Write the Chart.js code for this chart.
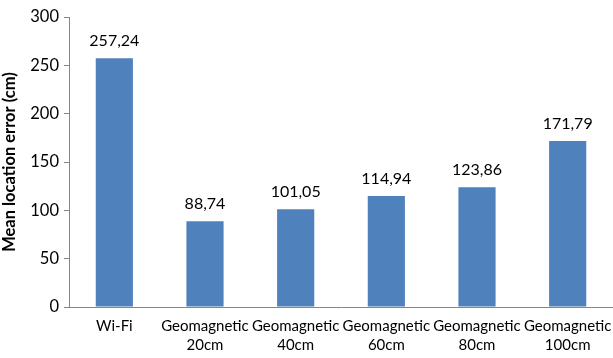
<!DOCTYPE html>
<html><head><meta charset="utf-8">
<script src="https://cdn.jsdelivr.net/npm/chart.js@4"></script>
<style>html,body{margin:0;padding:0;background:#fff}#w{width:613px;height:358px}</style>
</head><body><div id="w"><canvas id="c"></canvas></div>
<script>
const categories = [["Wi-Fi"],["Geomagnetic","20cm"],["Geomagnetic","40cm"],["Geomagnetic","60cm"],["Geomagnetic","80cm"],["Geomagnetic","100cm"]];
const values = [257.24, 88.74, 101.05, 114.94, 123.86, 171.79];
const valueLabels = ["257,24","88,74","101,05","114,94","123,86","171,79"];
const yTicks = [0,50,100,150,200,250,300];
const FONT = "Lato, 'Open Sans', sans-serif";
const labelPlugin = {
  id:'vlabels',
  afterDatasetsDraw(chart){
    const ctx=chart.ctx; const meta=chart.getDatasetMeta(0);
    ctx.save(); ctx.font="16px "+FONT; ctx.fillStyle="#000"; ctx.textAlign="center"; ctx.textBaseline="middle";
    meta.data.forEach((b,i)=>{ ctx.fillText(valueLabels[i], b.x, b.y-17); });
    ctx.restore();
  }
};
new Chart(document.getElementById('c'),{
  type:'bar',
  data:{labels:categories,datasets:[{data:values,backgroundColor:'#4F81BD',barPercentage:0.41,categoryPercentage:1}]},
  plugins:[labelPlugin],
  options:{
    responsive:true,maintainAspectRatio:false,animation:false,
    layout:{padding:{top:17,right:0,left:0,bottom:0}},
    plugins:{legend:{display:false},tooltip:{enabled:false}},
    scales:{
      x:{grid:{display:false,drawTicks:false},border:{color:'#868686'},
         ticks:{color:'#000',font:{size:15,family:FONT,lineHeight:1.3},padding:9,maxRotation:0,autoSkip:false},
         afterFit(s){s.height=51;s.paddingRight=0;s.paddingLeft=0;}},
      y:{min:0,max:300,afterBuildTicks(s){s.ticks=yTicks.map(v=>({value:v}));},
         grid:{drawOnChartArea:false,tickLength:5,color:'#868686'},border:{color:'#868686'},
         ticks:{color:'#000',font:{size:16.5,family:FONT},padding:5},
         title:{display:true,text:'Mean location error (cm)',color:'#000',font:{size:16.5,weight:'bold',family:FONT},padding:{top:0,bottom:2}},
         afterFit(s){s.width=69;s.paddingTop=0;}}
    }
  }
});
</script></body></html>
